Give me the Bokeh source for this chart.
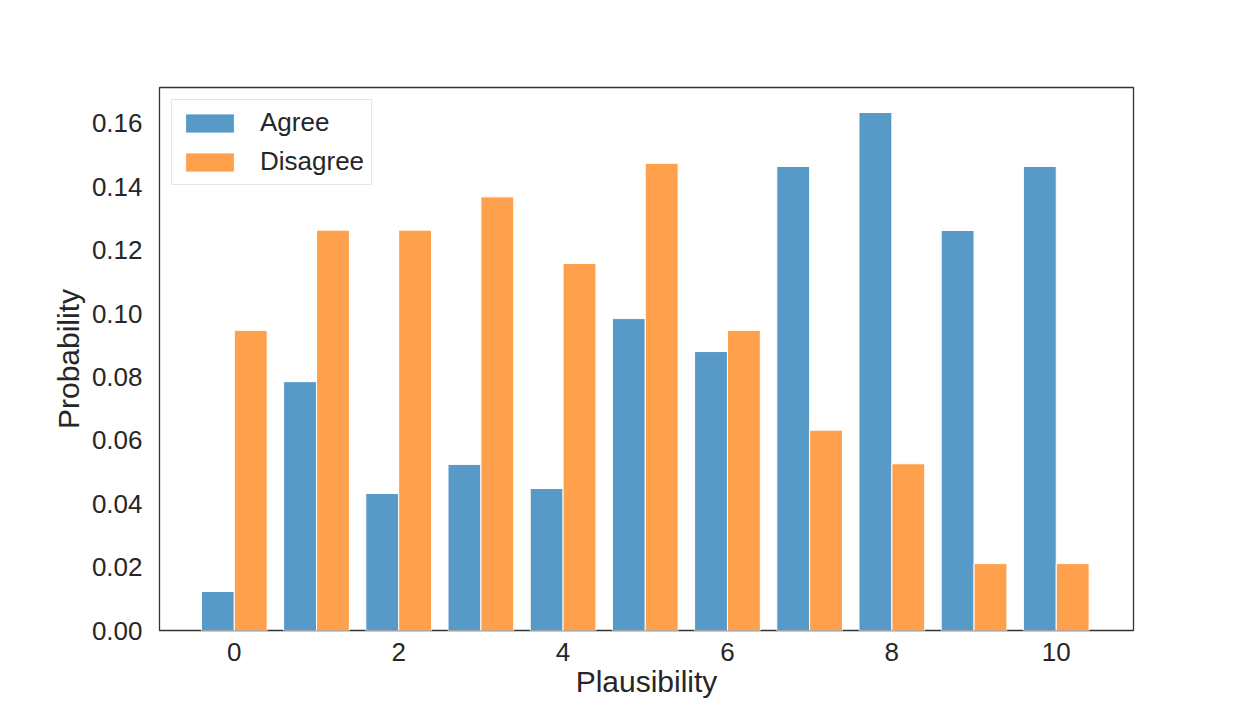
from bokeh.plotting import figure
from bokeh.models import Range1d, FixedTicker, ColumnDataSource, Legend, LegendItem
from bokeh.embed import file_html
from bokeh.resources import INLINE
import numpy as np

plausibility = list(range(11))
agree = [0.0123, 0.0785, 0.0432, 0.0524, 0.0448, 0.0984, 0.0880, 0.1464, 0.1634, 0.1262, 0.1464]
disagree = [0.0947, 0.1263, 0.1263, 0.1368, 0.1158, 0.1474, 0.0947, 0.0632, 0.0526, 0.0211, 0.0211]
series_names = ["Agree", "Disagree"]
y_ticks = [0.00, 0.02, 0.04, 0.06, 0.08, 0.10, 0.12, 0.14, 0.16]
x_ticks = [0, 2, 4, 6, 8, 10]

FONT = "Liberation Sans"
W, H = 1240, 700

p = figure(width=W, height=H, output_backend="svg", toolbar_location=None,
           x_range=Range1d(-0.91, 10.94), y_range=Range1d(0, 0.1713),
           min_border_left=159, min_border_right=W - 1133,
           min_border_top=87, min_border_bottom=H - 630)

p.background_fill_color = "white"
p.border_fill_color = "white"
p.xgrid.visible = False
p.ygrid.visible = False
p.outline_line_color = "#333333"
p.outline_line_width = 1.3

xs = np.array(plausibility, dtype=float)
src_a = ColumnDataSource(dict(x=xs - 0.2, top=agree))
src_d = ColumnDataSource(dict(x=xs + 0.2, top=disagree))
ra = p.vbar(x="x", top="top", width=0.4, bottom=0, source=src_a,
            fill_color="#5799c7", line_color="white", line_width=1)
rd = p.vbar(x="x", top="top", width=0.4, bottom=0, source=src_d,
            fill_color="#ffa04c", line_color="white", line_width=1)

for ax in (p.xaxis[0], p.yaxis[0]):
    ax.axis_line_color = None
    ax.major_tick_line_color = None
    ax.minor_tick_line_color = None
    ax.major_label_text_font = FONT
    ax.major_label_text_font_size = "26px"
    ax.major_label_text_color = "#262626"
    ax.axis_label_text_font = FONT
    ax.axis_label_text_font_size = "30px"
    ax.axis_label_text_font_style = "normal"
    ax.axis_label_text_color = "#262626"

p.xaxis.ticker = FixedTicker(ticks=x_ticks)
p.yaxis.ticker = FixedTicker(ticks=y_ticks)
p.yaxis.major_label_overrides = {t: f"{t:.2f}" for t in y_ticks}
p.xaxis.major_label_standoff = 6
p.yaxis.major_label_standoff = 11
p.xaxis.axis_label = "Plausibility"
p.yaxis.axis_label = "Probability"
p.xaxis.axis_label_standoff = 1
p.yaxis.axis_label_standoff = 4

legend = Legend(items=[LegendItem(label=series_names[0], renderers=[ra]),
                       LegendItem(label=series_names[1], renderers=[rd])],
                location="top_left")
legend.margin = 12
legend.padding = 7
legend.spacing = 8
legend.glyph_width = 61
legend.glyph_height = 24
legend.label_height = 31
legend.label_standoff = 20
legend.label_text_font = FONT
legend.label_text_font_size = "26px"
legend.label_text_color = "#262626"
legend.border_line_color = "#cccccc"
legend.border_line_width = 1
legend.background_fill_alpha = 1.0
p.add_layout(legend, "center")

open("out.html", "w").write(file_html(p, INLINE))
